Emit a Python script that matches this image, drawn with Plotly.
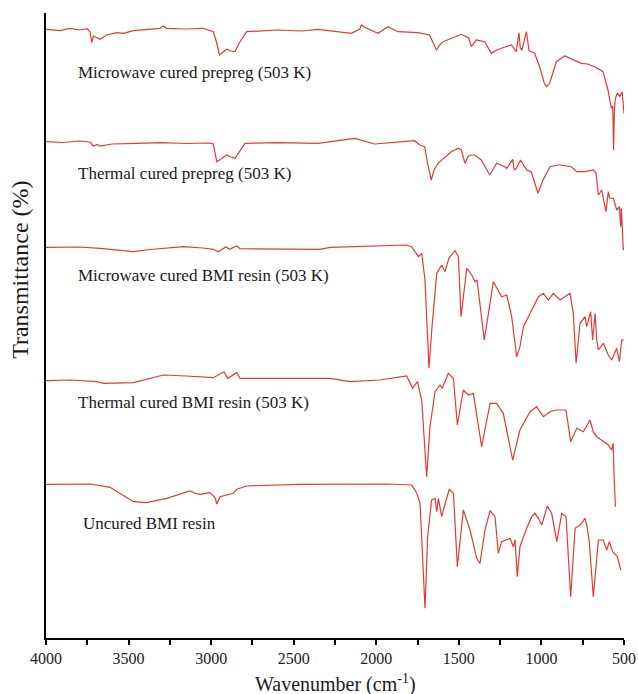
import plotly.graph_objects as go

# Wavenumbers (cm-1) and stacked transmittance values (arbitrary, offset)
mw_prepreg_wn = [4000, 3915, 3855, 3794, 3750, 3733, 3723, 3713, 3673, 3633, 3572, 3532, 3471, 3390, 3310, 3290, 3270, 3150, 3050, 2987, 2966, 2950, 2930, 2906, 2880, 2855, 2830, 2785, 2600, 2450, 2353, 2232, 2151, 2100, 2090, 2070, 1990, 1929, 1868, 1747, 1677, 1636, 1616, 1596, 1540, 1485, 1440, 1424, 1394, 1344, 1303, 1270, 1243, 1182, 1152, 1136, 1128, 1118, 1091, 1075, 1041, 1011, 985, 970, 950, 910, 859, 800, 758, 720, 678, 627, 597, 577, 568, 563, 558, 552, 540, 526, 512, 505, 500]
mw_prepreg_t = [608.7, 607.3, 609.7, 608.0, 609.3, 606.0, 595.3, 602.0, 598.7, 603.0, 605.3, 604.7, 607.3, 608.7, 609.7, 612.0, 609.7, 609.0, 609.7, 606.3, 595.0, 583.0, 586.0, 588.7, 587.0, 586.3, 595.0, 606.3, 608.0, 607.0, 608.7, 606.3, 604.7, 609.0, 613.0, 610.7, 604.7, 611.3, 606.3, 605.3, 603.0, 588.0, 593.0, 596.3, 600.0, 603.7, 600.0, 591.3, 598.0, 596.3, 584.7, 588.0, 589.7, 593.0, 586.3, 605.3, 590.0, 588.0, 606.3, 587.3, 584.7, 571.3, 556.0, 551.3, 554.7, 576.3, 582.0, 578.0, 574.7, 574.0, 571.3, 566.3, 548.0, 529.7, 532.0, 488.0, 530.0, 539.7, 545.0, 541.3, 546.3, 535.0, 524.7]

th_prepreg_wn = [4000, 3900, 3800, 3733, 3713, 3690, 3673, 3600, 3450, 3300, 3150, 3010, 2987, 2966, 2940, 2906, 2880, 2855, 2795, 2600, 2353, 2131, 2010, 1880, 1768, 1737, 1707, 1690, 1667, 1650, 1626, 1546, 1503, 1485, 1463, 1445, 1432, 1404, 1364, 1313, 1271, 1223, 1210, 1174, 1165, 1152, 1126, 1102, 1089, 1061, 1021, 990, 960, 948, 900, 887, 819, 786, 738, 686, 669, 655, 635, 609, 595, 587, 564, 544, 528, 520, 516, 504, 500]
th_prepreg_t = [496.3, 495.5, 497.0, 496.0, 492.0, 493.5, 492.0, 494.0, 494.7, 495.3, 494.5, 495.0, 494.0, 476.3, 479.0, 483.0, 481.0, 479.7, 494.7, 495.3, 494.7, 499.7, 494.0, 496.0, 497.3, 493.0, 491.3, 475.0, 458.0, 468.0, 474.7, 486.3, 489.7, 488.0, 474.7, 481.3, 483.0, 483.0, 478.0, 463.0, 474.7, 471.3, 469.7, 478.7, 468.0, 469.7, 478.0, 471.3, 468.0, 466.0, 444.7, 458.0, 468.0, 471.3, 473.0, 473.0, 471.3, 466.3, 466.3, 468.0, 464.7, 443.0, 448.0, 426.3, 446.3, 440.0, 439.7, 428.0, 431.3, 411.3, 429.7, 388.0, 390.0]

mw_bmi_wn = [4000, 3800, 3673, 3570, 3471, 3370, 3269, 3168, 3050, 2987, 2956, 2930, 2910, 2890, 2845, 2825, 2600, 2341, 2280, 2050, 1816, 1785, 1765, 1745, 1725, 1705, 1681, 1664, 1634, 1604, 1584, 1560, 1523, 1503, 1487, 1452, 1422, 1402, 1390, 1346, 1291, 1241, 1210, 1180, 1150, 1130, 1109, 1069, 1018, 988, 958, 928, 887, 827, 807, 790, 766, 736, 726, 702, 690, 675, 665, 655, 625, 595, 575, 544, 528, 514, 500]
mw_bmi_t = [390.7, 391.0, 389.7, 388.0, 386.3, 388.5, 389.7, 391.3, 390.0, 388.7, 386.3, 389.0, 391.3, 388.7, 392.0, 389.3, 388.7, 388.7, 390.7, 391.5, 393.0, 391.0, 386.3, 381.3, 384.7, 358.0, 269.7, 308.0, 364.7, 373.0, 366.3, 380.0, 387.3, 381.3, 321.3, 369.7, 363.0, 356.3, 358.0, 298.0, 356.3, 341.3, 343.0, 321.3, 281.3, 291.3, 311.3, 324.7, 341.3, 344.7, 338.0, 344.7, 338.0, 344.7, 324.7, 274.7, 314.7, 321.3, 311.3, 326.3, 298.0, 324.7, 298.0, 288.0, 294.7, 283.0, 278.0, 289.7, 276.3, 298.0, 298.0]

th_bmi_wn = [4000, 3850, 3693, 3650, 3471, 3380, 3289, 3150, 2987, 2922, 2900, 2845, 2825, 2341, 2280, 2159, 1977, 1816, 1780, 1751, 1725, 1695, 1675, 1644, 1614, 1600, 1564, 1533, 1509, 1473, 1442, 1412, 1362, 1311, 1271, 1231, 1174, 1130, 1069, 1029, 988, 948, 907, 851, 823, 786, 746, 706, 686, 665, 625, 595, 575, 566, 560, 552]
th_bmi_t = [257.3, 258.0, 256.3, 254.7, 255.3, 259.0, 263.0, 262.0, 260.3, 266.3, 259.7, 265.3, 259.7, 259.7, 259.7, 256.3, 258.0, 262.0, 249.7, 256.3, 238.0, 161.3, 211.3, 246.3, 253.0, 249.7, 264.7, 259.7, 213.0, 248.0, 243.0, 244.7, 191.3, 234.7, 234.7, 224.7, 178.0, 208.0, 226.3, 231.3, 221.3, 226.3, 228.0, 228.0, 196.3, 209.7, 206.3, 218.0, 206.3, 201.3, 196.3, 193.0, 188.0, 194.7, 161.3, 131.3]

uncured_wn = [4000, 3733, 3612, 3471, 3390, 3269, 3128, 3098, 3067, 3007, 2975, 2966, 2946, 2866, 2845, 2785, 2462, 2280, 1937, 1786, 1755, 1735, 1705, 1689, 1665, 1644, 1634, 1624, 1604, 1594, 1558, 1533, 1509, 1473, 1432, 1392, 1372, 1342, 1311, 1281, 1261, 1241, 1210, 1190, 1170, 1160, 1146, 1130, 1089, 1059, 1039, 1018, 998, 964, 938, 907, 877, 851, 823, 796, 766, 736, 724, 710, 686, 655, 625, 605, 589, 569, 540, 520]
uncured_t = [153.7, 154.0, 150.7, 136.3, 135.3, 139.7, 147.0, 144.7, 143.7, 145.3, 140.0, 134.0, 141.3, 144.7, 148.7, 152.0, 153.7, 154.0, 154.0, 153.0, 144.7, 134.7, 29.7, 101.3, 138.0, 139.7, 126.3, 139.7, 121.3, 128.0, 148.7, 144.7, 71.3, 128.0, 108.0, 79.7, 74.7, 108.0, 127.3, 121.3, 84.7, 96.3, 98.0, 99.7, 91.3, 98.0, 61.3, 91.3, 109.7, 121.3, 124.7, 119.7, 113.0, 132.0, 124.7, 96.3, 124.7, 121.3, 41.3, 109.7, 113.0, 119.7, 111.3, 96.3, 41.3, 98.0, 98.0, 88.0, 96.3, 86.3, 81.3, 68.0]

series_names = ["Microwave cured prepreg (503 K)", "Thermal cured prepreg (503 K)",
                "Microwave cured BMI resin (503 K)", "Thermal cured BMI resin (503 K)",
                "Uncured BMI resin"]
series_wn = [mw_prepreg_wn, th_prepreg_wn, mw_bmi_wn, th_bmi_wn, uncured_wn]
series_t = [mw_prepreg_t, th_prepreg_t, mw_bmi_t, th_bmi_t, uncured_t]
label_wn = [3818, 3818, 3818, 3818, 3790]
label_t = [566, 465, 363, 236, 115]

tick_vals = [4000, 3500, 3000, 2500, 2000, 1500, 1000, 500]

FONT = "Liberation Serif, Times New Roman, serif"
RED = "#e23b33"

fig = go.Figure()
for name, wn, t in zip(series_names, series_wn, series_t):
    fig.add_trace(go.Scatter(x=wn, y=t, mode="lines", name=name,
                             line=dict(color=RED, width=1.2), showlegend=False))

for name, lx, ly in zip(series_names, label_wn, label_t):
    fig.add_annotation(x=lx, y=ly, xref="x", yref="y", text=name, showarrow=False,
                       xanchor="left", yanchor="middle",
                       font=dict(family=FONT, size=17, color="#1a1a1a"))

fig.add_annotation(x=0.5, y=-0.073, xref="paper", yref="paper",
                   text="Wavenumber (cm<sup>-1</sup>)", showarrow=False,
                   xanchor="center", yanchor="middle",
                   font=dict(family=FONT, size=20, color="#1a1a1a"))
fig.add_annotation(x=-0.045, y=0.589, xref="paper", yref="paper",
                   text="Transmittance (%)", showarrow=False, textangle=-90,
                   xanchor="center", yanchor="middle",
                   font=dict(family=FONT, size=24, color="#1a1a1a"))

fig.update_layout(
    template="none",
    width=638, height=694, autosize=False,
    margin=dict(l=46, r=14, t=13, b=56),
    plot_bgcolor="white", paper_bgcolor="white",
    font=dict(family=FONT, color="#1a1a1a"),
    xaxis=dict(range=[4000, 500], tickvals=tick_vals, ticktext=[str(v) for v in tick_vals],
               automargin=False,
               ticks="outside", ticklen=5, tickwidth=1.5, tickcolor="black",
               minor=dict(dtick=250, ticks="outside", ticklen=5, tickwidth=1.5, tickcolor="black",
                          showgrid=False),
               showline=True, linecolor="black", linewidth=1.5, mirror=False,
               showgrid=False, zeroline=False,
               tickfont=dict(family=FONT, size=16, color="#1a1a1a")),
    yaxis=dict(range=[0, 625], showticklabels=False, ticks="", automargin=False,
               showline=True, linecolor="black", linewidth=1.5, mirror=False,
               showgrid=False, zeroline=False),
)

fig.write_html("out.html", config={"responsive": False})
